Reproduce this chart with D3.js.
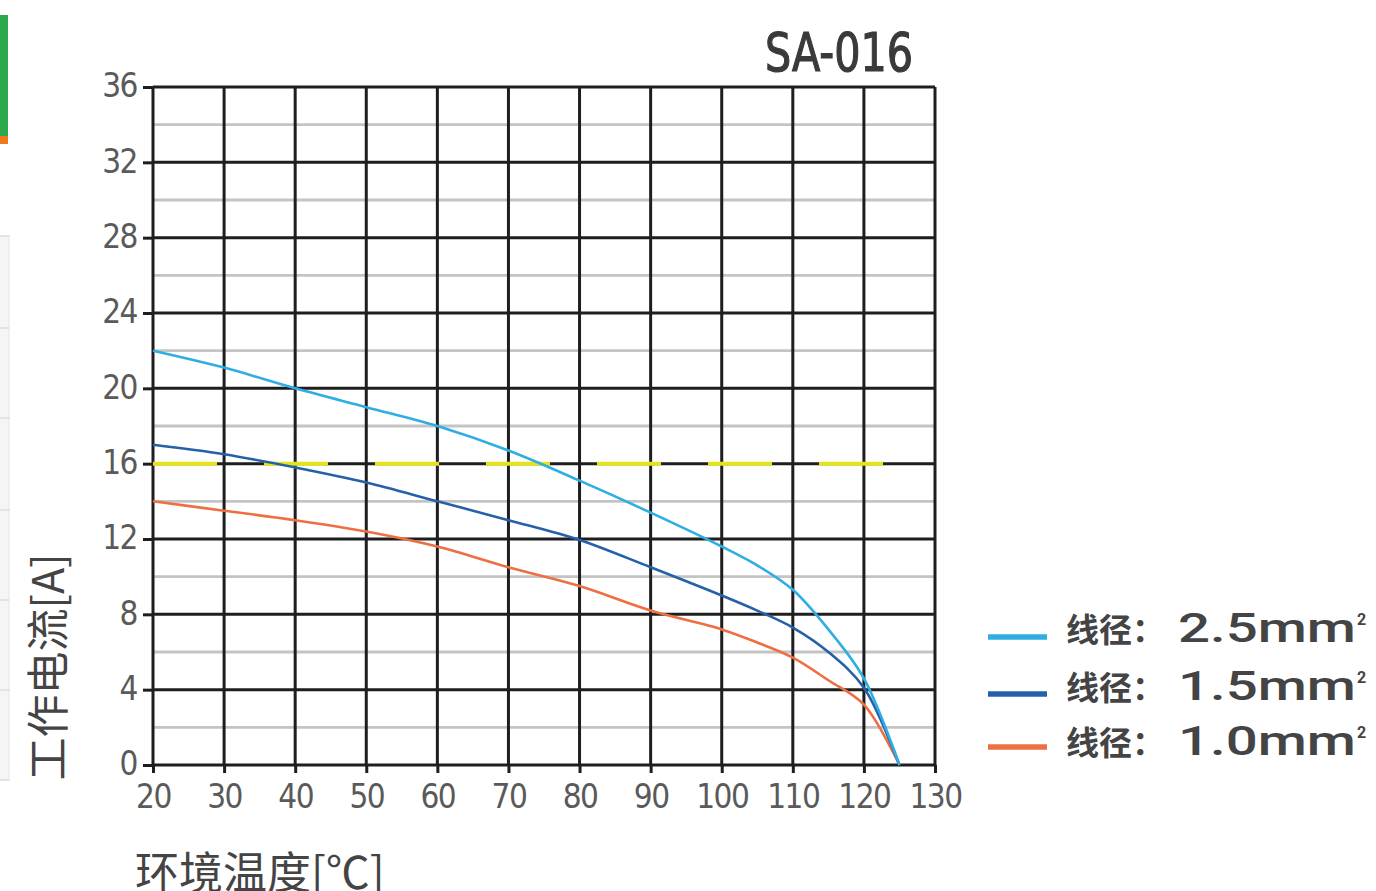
<!DOCTYPE html>
<html><head><meta charset="utf-8">
<script src="https://cdn.jsdelivr.net/npm/d3@7"></script>
<style>
html,body{margin:0;padding:0;background:#fff;}
svg{display:block;}
</style></head>
<body>
<svg id="c" width="1376" height="891"></svg>
<script>
const temps = [20,30,40,50,60,70,80,90,100,105,110,115,120,125];
const wire25 = [22.0,21.1,20.0,19.0,18.0,16.7,15.1,13.4,11.6,10.6,9.3,7.2,4.6,0];
const wire15 = [17.0,16.5,15.8,15.0,14.0,13.0,11.95,10.5,9.0,8.2,7.3,6.0,4.1,0];
const wire10 = [14.0,13.5,13.0,12.4,11.6,10.5,9.5,8.2,7.2,6.5,5.7,4.5,3.2,0];
const xTicks = [20,30,40,50,60,70,80,90,100,110,120,130];
const yTicks = [0,4,8,12,16,20,24,28,32,36];
const yMinor = [2,6,10,14,18,22,26,30,34];
const limitValue = 16;
const limitRange = [20,123];
const seriesNames = ["线径：","线径：","线径："];
const seriesSizes = ["2.5mm","1.5mm","1.0mm"];
const colors = ["#2eaee2","#2461a8","#ee6f42"];
const title = "SA-016";
const yTitle = "工作电流[A]";
const xTitle = "环境温度[℃]";

const svg = d3.select("#c");
const x = d3.scaleLinear().domain([20,130]).range([153,935]);
const y = d3.scaleLinear().domain([0,36]).range([765,87]);
const numFont = "'Liberation Sans Narrow','DejaVu Sans Condensed',sans-serif";
const cjk = "'Noto Sans CJK SC',sans-serif";

// page artifacts on the left edge
svg.append("rect").attr("x",0).attr("y",15).attr("width",8).attr("height",121).attr("fill","#2aa84a");
svg.append("rect").attr("x",0).attr("y",136).attr("width",8).attr("height",8).attr("fill","#f07820");
svg.append("rect").attr("x",0).attr("y",236).attr("width",9).attr("height",545).attr("fill","#f5f5f5");
[236,328,418,510,600,690,780].forEach(v=>{
  svg.append("line").attr("x1",0).attr("x2",10).attr("y1",v).attr("y2",v).attr("stroke","#dcdcdc").attr("stroke-width",1.5);
});
svg.append("line").attr("x1",9).attr("x2",9).attr("y1",236).attr("y2",781).attr("stroke","#e6e6e6").attr("stroke-width",1);

// minor grid
svg.append("g").selectAll("line").data(yMinor).join("line")
  .attr("x1",x(20)).attr("x2",x(130)).attr("y1",d=>y(d)).attr("y2",d=>y(d))
  .attr("stroke","#c4c4c4").attr("stroke-width",2.8);

// major grid
svg.append("g").selectAll("line").data(yTicks).join("line")
  .attr("x1",x(20)).attr("x2",x(130)).attr("y1",d=>y(d)).attr("y2",d=>y(d))
  .attr("stroke","#1e1e1e").attr("stroke-width",3);
svg.append("g").selectAll("line").data(xTicks).join("line")
  .attr("x1",d=>x(d)).attr("x2",d=>x(d)).attr("y1",y(0)).attr("y2",y(36))
  .attr("stroke","#1e1e1e").attr("stroke-width",3);

// axes
const ya = svg.append("g").attr("transform",`translate(${x(20)},0)`)
  .call(d3.axisLeft(y).tickValues(yTicks).tickSize(10).tickPadding(6).tickFormat(d3.format("d")));
ya.select(".domain").remove();
ya.selectAll(".tick line").attr("stroke","#1e1e1e").attr("stroke-width",3);
ya.selectAll(".tick text").attr("font-family",numFont).attr("font-size",33).attr("fill","#5a5a5a").attr("dy","0.3em").attr("letter-spacing","-1.5");

const xa = svg.append("g").attr("transform",`translate(0,${y(0)})`)
  .call(d3.axisBottom(x).tickValues(xTicks).tickSize(8).tickPadding(12).tickFormat(d3.format("d")));
xa.select(".domain").remove();
xa.selectAll(".tick line").attr("stroke","#1e1e1e").attr("stroke-width",3);
xa.selectAll(".tick text").attr("font-family",numFont).attr("font-size",33).attr("fill","#5a5a5a").attr("letter-spacing","-1.5");

// limit dashed line
svg.append("line").attr("x1",x(limitRange[0])).attr("x2",x(limitRange[1]))
  .attr("y1",y(limitValue)).attr("y2",y(limitValue))
  .attr("stroke","#e4e41c").attr("stroke-width",4).attr("stroke-dasharray","64,47");

// curves
const line = d3.line().x((d,i)=>x(temps[i])).y(d=>y(d)).curve(d3.curveCatmullRom.alpha(0.5));
[[wire10,colors[2]],[wire15,colors[1]],[wire25,colors[0]]].forEach(([s,c])=>{
  svg.append("path").datum(s).attr("d",line).attr("fill","none")
    .attr("stroke",c).attr("stroke-width",2.6).attr("stroke-linejoin","round");
});

// title
svg.append("text").attr("x",765).attr("y",71).attr("font-family",numFont)
  .attr("font-size",54).attr("fill","#3a3a3a").attr("stroke","#3a3a3a").attr("stroke-width",1.2)
  .attr("textLength",148).attr("lengthAdjust","spacingAndGlyphs").text(title);

// axis titles
svg.append("text").attr("transform","translate(64,667) rotate(-90)").attr("text-anchor","middle")
  .attr("font-family",cjk).attr("font-size",43).attr("fill","#444").text(yTitle);
svg.append("text").attr("x",135).attr("y",889).attr("font-family",cjk)
  .attr("font-size",44).attr("fill","#444").text(xTitle);

// legend
const legY = [637,694,747];
const txtY = [642,700,755];
colors.forEach((c,i)=>{
  svg.append("line").attr("x1",988).attr("x2",1047).attr("y1",legY[i]).attr("y2",legY[i])
    .attr("stroke",c).attr("stroke-width",5.5);
  svg.append("text").attr("x",1066).attr("y",txtY[i]).attr("font-family",cjk).attr("font-weight","bold")
    .attr("font-size",33).attr("fill","#444").text(seriesNames[i]);
  svg.append("text").attr("x",1178).attr("y",txtY[i]).attr("font-family","Roboto,sans-serif").attr("font-weight","500")
    .attr("font-size",40).attr("fill","#444").attr("textLength",178).attr("lengthAdjust","spacingAndGlyphs").text(seriesSizes[i]);
  svg.append("text").attr("x",1357).attr("y",txtY[i]-17).attr("font-family","Roboto,sans-serif").attr("font-weight","bold")
    .attr("font-size",16).attr("fill","#444").text("2");
});
</script>
</body></html>
